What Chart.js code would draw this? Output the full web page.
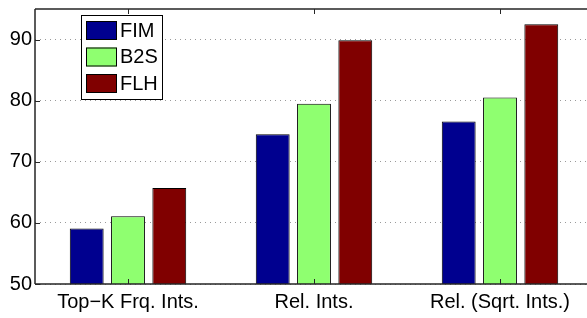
<!DOCTYPE html>
<html>
<head>
<meta charset="utf-8">
<script src="https://cdn.jsdelivr.net/npm/chart.js@4/dist/chart.umd.min.js"></script>
<style>
html,body{margin:0;padding:0;background:#fff;overflow:hidden;width:587px;height:318px;}
canvas{display:block;}
</style>
</head>
<body>
<canvas id="c" width="600" height="318"></canvas>
<script>
const categories = ['Top\u2212K Frq. Ints.', 'Rel. Ints.', 'Rel. (Sqrt. Ints.)'];
const seriesNames = ['FIM', 'B2S', 'FLH'];
const fimValues = [59.1, 74.5, 76.6];
const b2sValues = [61.1, 79.5, 80.5];
const flhValues = [65.7, 89.9, 92.5];
const yTicks = [50, 60, 70, 80, 90];
const colors = ['#00008f', '#8fff70', '#800000'];

const FONT = '"Liberation Sans", Arial, Helvetica, sans-serif';

const framePlugin = {
  id: 'frame',
  afterDatasetsDraw(chart) {
    const {ctx, chartArea: a, scales} = chart;
    ctx.save();
    ctx.strokeStyle = '#262626';
    ctx.lineWidth = 1.5;
    ctx.beginPath();
    ctx.moveTo(a.left, a.top);
    ctx.lineTo(a.left, a.bottom);
    ctx.moveTo(a.left, a.top);
    ctx.lineTo(a.right, a.top);
    ctx.moveTo(a.right, a.top);
    ctx.lineTo(a.right, a.bottom);
    ctx.moveTo(a.left, a.bottom);
    ctx.lineTo(a.right, a.bottom);
    ctx.stroke();
    ctx.lineWidth = 1;
    ctx.beginPath();
    yTicks.forEach(v => {
      const y = Math.round(scales.y.getPixelForValue(v)) + 0.5;
      ctx.moveTo(a.left, y); ctx.lineTo(a.left + 5, y);
      ctx.moveTo(a.right, y); ctx.lineTo(a.right - 5, y);
    });
    categories.forEach((c, i) => {
      const x = Math.round(scales.x.getPixelForValue(i)) + 0.5;
      ctx.moveTo(x, a.top); ctx.lineTo(x, a.top + 5);
      ctx.moveTo(x, a.bottom); ctx.lineTo(x, a.bottom - 5);
    });
    ctx.stroke();
    ctx.restore();
  },
  afterDraw(chart) {
    const {ctx} = chart;
    ctx.save();
    const bx = 81, by = 15, bw = 81, bh = 84;
    ctx.fillStyle = '#fff';
    ctx.fillRect(bx, by, bw, bh);
    ctx.strokeStyle = '#000';
    ctx.lineWidth = 1;
    ctx.strokeRect(bx + 0.5, by + 0.5, bw, bh);
    ctx.font = '20px ' + FONT;
    ctx.textBaseline = 'middle';
    ctx.textAlign = 'left';
    chart.data.datasets.forEach((ds, i) => {
      const sy = 21 + i * 26.5;
      ctx.fillStyle = ds.backgroundColor;
      ctx.fillRect(86, sy, 31, 19);
      ctx.strokeStyle = '#000';
      ctx.strokeRect(86.5, sy + 0.5, 30, 18);
      ctx.fillStyle = '#000';
      ctx.fillText(ds.label, 120, sy + 10);
    });
    ctx.restore();
  }
};

new Chart(document.getElementById('c'), {
  type: 'bar',
  data: {
    labels: categories,
    datasets: [
      {label: seriesNames[0], data: fimValues, backgroundColor: colors[0]},
      {label: seriesNames[1], data: b2sValues, backgroundColor: colors[1]},
      {label: seriesNames[2], data: flhValues, backgroundColor: colors[2]}
    ].map(d => Object.assign(d, {borderColor: '#000', borderWidth: 1, borderSkipped: false,
      categoryPercentage: 0.666, barPercentage: 0.82}))
  },
  options: {
    responsive: false,
    animation: false,
    devicePixelRatio: 1,
    layout: {padding: {top: 9, right: 7, left: 0, bottom: 0}},
    plugins: {legend: {display: false}, tooltip: {enabled: false}},
    scales: {
      x: {
        offset: true,
        grid: {display: false, drawTicks: false},
        border: {display: false},
        ticks: {color: '#000', font: {family: FONT, size: 20}, padding: 6, maxRotation: 0, autoSkip: false},
        afterFit(s) { s.height = 34; s.paddingLeft = 0; s.paddingRight = 0; }
      },
      y: {
        min: 50, max: 95,
        grid: {color: '#9a9a9a', drawTicks: false, lineWidth: 1},
        border: {display: false, dash: [1, 4]},
        ticks: {color: '#000', font: {family: FONT, size: 20}, padding: 3, stepSize: 10},
        afterBuildTicks(s) { s.ticks = yTicks.map(v => ({value: v})); },
        afterFit(s) { s.width = 35; s.paddingTop = 0; s.paddingBottom = 0; }
      }
    }
  },
  plugins: [framePlugin]
});
</script>
</body>
</html>
